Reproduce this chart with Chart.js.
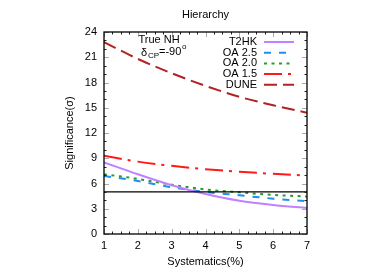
<!DOCTYPE html>
<html><head><meta charset="utf-8">
<script src="https://cdn.jsdelivr.net/npm/chart.js@4/dist/chart.umd.min.js"></script>
<style>html,body{margin:0;padding:0;background:#fff}#wrap{width:385px;height:269px}</style>
</head><body><div id="wrap"><canvas id="c" width="385" height="269"></canvas></div>
<script>
const systematics = [1, 2, 3, 4, 5, 6, 7];
const t2hk  = [8.5, 7.1, 5.8, 4.75, 3.95, 3.45, 3.1];
const oa25  = [6.9, 6.3, 5.55, 5.0, 4.6, 4.2, 3.9];
const oa20  = [7.1, 6.55, 5.85, 5.3, 4.95, 4.65, 4.45];
const oa15  = [9.3, 8.6, 8.1, 7.7, 7.4, 7.15, 6.95];
const dune  = [22.8, 20.8, 19.1, 17.6, 16.3, 15.3, 14.4];
const threshold = [5, 5, 5, 5, 5, 5, 5];
const seriesNames = ['T2HK', 'OA 2.5', 'OA 2.0', 'OA 1.5', 'DUNE'];
const yTicks = [0, 3, 6, 9, 12, 15, 18, 21, 24];
const xTicks = [1, 2, 3, 4, 5, 6, 7];

const FONT = '"Liberation Sans", Arial, sans-serif';
const pts = arr => arr.map((v, i) => ({x: systematics[i], y: v}));
const styles = [
  {c: '#c080ff', d: []},
  {c: '#1e8ff0', d: [7, 8]},
  {c: '#2a9a2a', d: [3, 4.5]},
  {c: '#ff1a1a', d: [18, 6, 3, 7]},
  {c: '#b22222', d: [13, 6]}
];
const seriesData = [t2hk, oa25, oa20, oa15, dune];
const datasets = seriesData.map((arr, i) => ({
  label: seriesNames[i], data: pts(arr), borderColor: styles[i].c, borderDash: styles[i].d,
  borderWidth: 2, pointRadius: 0, fill: false, cubicInterpolationMode: 'monotone'
}));
datasets.unshift({label: 'threshold', data: pts(threshold), borderColor: '#000', borderWidth: 1.4, pointRadius: 0, fill: false});

const deco = {
  id: 'deco',
  afterDatasetsDraw(chart) {
    const ctx = chart.ctx, a = chart.chartArea, xs = chart.scales.x, ys = chart.scales.y;
    ctx.save();
    ctx.lineWidth = 1;
    const tick = (major, draw) => {
      ctx.strokeStyle = major ? '#aaa' : '#222';
      ctx.beginPath(); draw(); ctx.stroke();
    };
    for (let v = 0; v <= 24; v += 1) {
      const y = Math.round(ys.getPixelForValue(v)) + 0.5;
      const major = v % 3 === 0, L = major ? 5 : 2.5;
      tick(major, () => {
        ctx.moveTo(a.left, y); ctx.lineTo(a.left + L, y);
        ctx.moveTo(a.right, y); ctx.lineTo(a.right - L, y);
      });
    }
    for (let k = 0; k <= 24; k++) {
      const v = 1 + k * 0.25;
      const x = Math.round(xs.getPixelForValue(v)) + 0.5;
      const major = k % 4 === 0, L = major ? 5 : 2.5;
      tick(major, () => {
        ctx.moveTo(x, a.bottom); ctx.lineTo(x, a.bottom - L);
        ctx.moveTo(x, a.top); ctx.lineTo(x, a.top + L);
      });
    }
    // border
    ctx.strokeStyle = '#000'; ctx.lineWidth = 1.3;
    ctx.strokeRect(a.left, a.top, a.right - a.left, a.bottom - a.top);
    // title
    ctx.fillStyle = '#000';
    ctx.font = '11px ' + FONT; ctx.textAlign = 'center'; ctx.textBaseline = 'middle';
    ctx.fillText('Hierarchy', (a.left + a.right) / 2, 15);
    // axis titles
    ctx.fillText('Systematics(%)', (a.left + a.right) / 2, 262);
    ctx.save(); ctx.translate(70, (a.top + a.bottom) / 2); ctx.rotate(-Math.PI / 2);
    ctx.fillText('Significance(\u03c3)', 0, 0); ctx.restore();
    // annotation
    ctx.font = '11px ' + FONT;
    ctx.fillText('True NH', 159, 40);
    ctx.textAlign = 'left';
    ctx.fillText('\u03b4', 141, 53);
    ctx.font = '8px ' + FONT; ctx.fillText('CP', 148, 56);
    ctx.font = '11px ' + FONT; ctx.fillText('=-90', 159, 52);
    ctx.font = '8px ' + FONT; ctx.fillText('o', 182, 47);
    // legend
    ctx.font = '11px ' + FONT; ctx.textAlign = 'right';
    seriesNames.forEach((n, i) => {
      const y = 42 + i * 10.7;
      ctx.fillStyle = '#000'; ctx.fillText(n, 257, y);
      ctx.strokeStyle = styles[i].c; ctx.lineWidth = 2; ctx.setLineDash(styles[i].d);
      ctx.beginPath(); ctx.moveTo(264, y); ctx.lineTo(294, y); ctx.stroke(); ctx.setLineDash([]);
    });
    ctx.restore();
  }
};

new Chart(document.getElementById('c'), {
  type: 'line',
  data: {datasets},
  options: {
    responsive: false, animation: false, devicePixelRatio: 1,
    layout: {padding: {left: 0, right: 78, top: 32, bottom: 0}},
    plugins: {legend: {display: false}, tooltip: {enabled: false}},
    scales: {
      x: {type: 'linear', min: 1, max: 7,
        grid: {display: false, drawTicks: false}, border: {display: false},
        afterBuildTicks: s => { s.ticks = xTicks.map(v => ({value: v})); },
        afterFit: s => { s.height = 35; },
        ticks: {padding: 5, color: '#000', font: {family: FONT, size: 11}, maxRotation: 0}},
      y: {type: 'linear', min: 0, max: 24,
        grid: {display: false, drawTicks: false}, border: {display: false},
        afterBuildTicks: s => { s.ticks = yTicks.map(v => ({value: v})); },
        afterFit: s => { s.width = 104; },
        ticks: {padding: 7, color: '#000', font: {family: FONT, size: 11}}}
    }
  },
  plugins: [deco]
});
</script></body></html>
